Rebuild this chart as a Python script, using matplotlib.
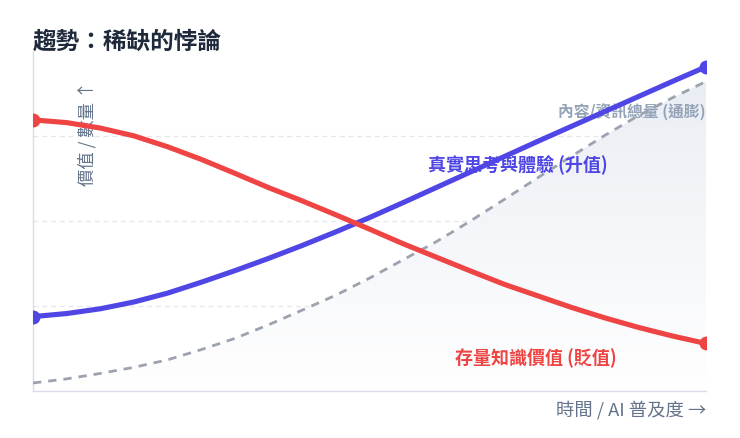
import matplotlib
matplotlib.use('Agg')
import matplotlib.pyplot as plt
import numpy as np
from matplotlib.colors import LinearSegmentedColormap

plt.rcParams['font.family'] = ['Noto Sans CJK TC', 'DejaVu Sans']

# values, x = time / AI adoption (0..1), y = 0..100
t = [0.0, 0.05, 0.1, 0.15, 0.2, 0.25, 0.3, 0.35, 0.4, 0.45, 0.5,
     0.55, 0.6, 0.65, 0.7, 0.75, 0.8, 0.85, 0.9, 0.95, 1.0]
info_total = [2.4, 3.6, 5.2, 7.0, 9.2, 12.2, 15.5, 19.5, 23.8, 28.2, 33.2,
              38.6, 44.0, 50.0, 56.3, 62.7, 69.0, 75.2, 81.0, 86.2, 91.0]
real_value = [21.9, 22.8, 24.2, 26.2, 28.8, 32.0, 35.4, 39.0, 42.8, 46.8, 51.0,
              55.4, 59.9, 64.4, 68.9, 73.4, 77.8, 82.2, 86.6, 91.0, 95.3]
stock_value = [79.7, 78.9, 77.3, 75.0, 71.8, 68.1, 64.0, 59.8, 55.9, 51.8, 47.6,
               43.3, 39.3, 35.3, 31.4, 28.0, 24.6, 21.5, 18.7, 16.2, 14.0]

title = '趨勢：稀缺的悖論'
ylabel = '價值 / 數量 ↑'
xlabel = '時間 / AI 普及度 →'
lbl_info = '內容/資訊總量 (通膨)'
lbl_real = '真實思考與體驗 (升值)'
lbl_stock = '存量知識價值 (貶值)'

fig = plt.figure(figsize=(7.4, 4.38), dpi=100)
ax = fig.add_axes([0.0446, 0.107, 0.9095, 0.777])
ax.set_xlim(0, 1)
ax.set_ylim(0, 100)

# gradient fill under the dashed line
poly = ax.fill_between(t, info_total, 0, color='none', lw=0)
cmap = LinearSegmentedColormap.from_list('g', ['#ffffff', '#e8ecf3'])
grad = np.linspace(0, 1, 256).reshape(-1, 1)
im = ax.imshow(grad, extent=[0, 1, 0, 100], origin='lower', aspect='auto',
               cmap=cmap, zorder=1)
im.set_clip_path(poly.get_paths()[0], transform=ax.transData)

for g in [25, 50, 75]:
    ax.axhline(g, color='#e5e7eb', lw=0.9, ls=(0, (4, 3)), zorder=0)

ax.plot(t, info_total, color='#9ca3af', lw=2, ls=(0, (3, 2.5)), zorder=3)
ax.plot(t, real_value, color='#4f46e5', lw=3.7, zorder=5,
        solid_capstyle='round', solid_joinstyle='round')
ax.plot(t, stock_value, color='#ef4444', lw=3.7, zorder=5,
        solid_capstyle='round', solid_joinstyle='round')
ax.plot([t[0], t[-1]], [real_value[0], real_value[-1]], 'o', color='#4f46e5', ms=9, zorder=6)
ax.plot([t[0], t[-1]], [stock_value[0], stock_value[-1]], 'o', color='#ef4444', ms=9, zorder=6)

ax.text(1.0, 81.8, lbl_info, ha='right', va='center', fontsize=11.3,
        color='#94a3b8', fontweight='bold', zorder=4)
ax.text(0.587, 66.5, lbl_real, ha='left', va='center', fontsize=13,
        color='#4f46e5', fontweight='bold', zorder=4)
ax.text(0.627, 9.7, lbl_stock, ha='left', va='center', fontsize=13,
        color='#ef4444', fontweight='bold', zorder=4)

ax.text(0.08, 75.8, ylabel, rotation=90, ha='center', va='center', fontsize=12.5,
        color='#64748b')
fig.text(0.954, 0.064, xlabel, ha='right', va='center', fontsize=13.2, color='#64748b')
fig.text(0.0446, 0.905, title, ha='left', va='center', fontsize=17,
         fontweight='bold', color='#1e293b')

ax.set_xticks([])
ax.set_yticks([])
for s in ['top', 'right']:
    ax.spines[s].set_visible(False)
ax.spines['left'].set_color('#d9dce6')
ax.spines['bottom'].set_color('#d9dce6')
ax.spines['left'].set_linewidth(1)
ax.spines['bottom'].set_linewidth(1)

fig.savefig('out.png', dpi=100)
